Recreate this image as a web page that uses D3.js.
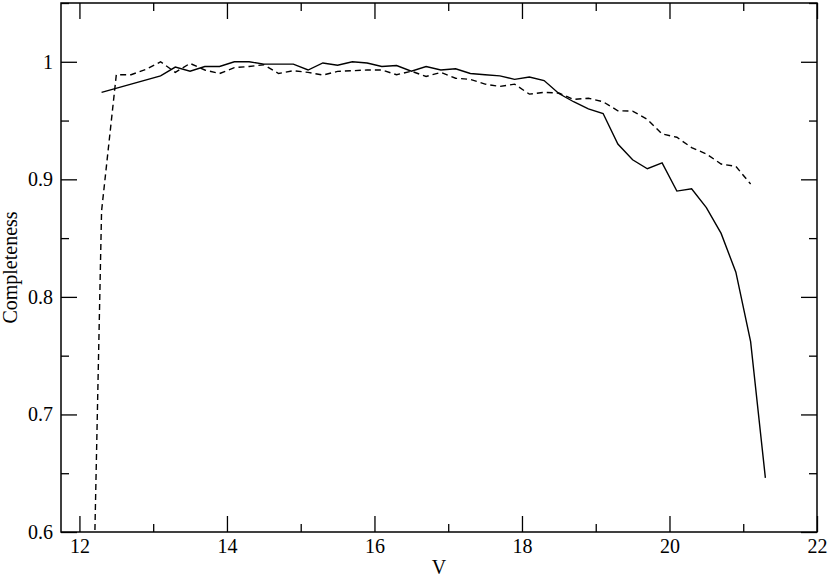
<!DOCTYPE html>
<html>
<head>
<meta charset="utf-8">
<script src="https://cdn.jsdelivr.net/npm/d3@7"></script>
<style>
  body { margin: 0; background: #fff; }
  svg { display: block; }
  text { font-family: "Liberation Serif", "Times New Roman", serif; fill: #000; }
</style>
</head>
<body>
<svg id="chart" width="830" height="577"></svg>
<script>
// ---- Data ----
const solidX = [12.3, 13.1, 13.3, 13.5, 13.7, 13.9, 14.1, 14.3, 14.5, 14.7, 14.9, 15.1, 15.3, 15.5, 15.7, 15.9, 16.1, 16.3, 16.5, 16.7, 16.9, 17.1, 17.3, 17.5, 17.7, 17.9, 18.1, 18.3, 18.5, 18.7, 18.9, 19.1, 19.3, 19.5, 19.7, 19.9, 20.1, 20.3, 20.5, 20.7, 20.9, 21.1, 21.3];
const solidY = [0.974, 0.988, 0.9955, 0.992, 0.996, 0.996, 1.0, 1.0, 0.998, 0.998, 0.998, 0.993, 0.999, 0.997, 1.0, 0.999, 0.996, 0.9968, 0.992, 0.996, 0.993, 0.994, 0.990, 0.989, 0.988, 0.985, 0.987, 0.984, 0.973, 0.966, 0.960, 0.956, 0.930, 0.9166, 0.909, 0.914, 0.890, 0.892, 0.876, 0.854, 0.821, 0.762, 0.646];

const dashedX = [12.1, 12.3, 12.5, 12.7, 12.9, 13.1, 13.3, 13.5, 13.7, 13.9, 14.1, 14.3, 14.5, 14.7, 14.9, 15.1, 15.3, 15.5, 15.7, 15.9, 16.1, 16.3, 16.5, 16.7, 16.9, 17.1, 17.3, 17.5, 17.7, 17.9, 18.1, 18.3, 18.5, 18.7, 18.9, 19.1, 19.3, 19.5, 19.7, 19.9, 20.1, 20.3, 20.5, 20.7, 20.9, 21.1];
const dashedY = [0.27, 0.873, 0.989, 0.989, 0.9935, 1.0, 0.991, 0.9986, 0.993, 0.990, 0.995, 0.996, 0.9975, 0.990, 0.9924, 0.991, 0.9887, 0.9918, 0.9924, 0.993, 0.993, 0.989, 0.992, 0.9875, 0.991, 0.986, 0.985, 0.981, 0.979, 0.981, 0.9725, 0.974, 0.9734, 0.968, 0.969, 0.966, 0.9583, 0.958, 0.951, 0.9386, 0.9358, 0.927, 0.9216, 0.913, 0.911, 0.896];

const xMajorTicks = [12, 14, 16, 18, 20, 22];
const xMinorTicks = [13, 15, 17, 19, 21];
const yMajorTicks = [0.6, 0.7, 0.8, 0.9, 1.0];
const yMinorTicks = [0.65, 0.75, 0.85, 0.95, 1.05];
const xTitle = "V";
const yTitle = "Completeness";

// ---- Layout ----
const svg = d3.select("#chart");
const pL = 61, pR = 817, pT = 3, pB = 532;
const x = d3.scaleLinear().domain([11.75, 22]).range([pL, pR]);
const y = d3.scaleLinear().domain([0.6, 1.05]).range([pB, pT]);

const majorLen = 16, minorLen = 8;
const fontSize = 20;

svg.append("defs").append("clipPath").attr("id", "clip")
  .append("rect").attr("x", pL).attr("y", pT).attr("width", pR - pL).attr("height", pB - pT);

function addAxis(axisGen, tx, ty, showLabels) {
  const g = svg.append("g").attr("transform", `translate(${tx},${ty})`).call(axisGen);
  g.select(".domain").remove();
  g.selectAll(".tick line").attr("stroke", "#000").attr("stroke-width", 1.3);
  if (!showLabels) g.selectAll(".tick text").remove();
  else g.selectAll(".tick text").attr("font-size", fontSize).attr("font-family", "Liberation Serif, serif").attr("fill", "#000");
  return g;
}
const fmtY = d => d === 1 ? "1" : d3.format(".1f")(d);
addAxis(d3.axisBottom(x).tickValues(xMajorTicks).tickSize(-majorLen).tickPadding(7).tickFormat(d3.format("d")), 0, pB, true);
addAxis(d3.axisBottom(x).tickValues(xMinorTicks).tickSize(-minorLen), 0, pB, false);
addAxis(d3.axisTop(x).tickValues(xMajorTicks).tickSize(-majorLen), 0, pT, false);
addAxis(d3.axisTop(x).tickValues(xMinorTicks).tickSize(-minorLen), 0, pT, false);
addAxis(d3.axisLeft(y).tickValues(yMajorTicks).tickSize(-majorLen).tickPadding(8).tickFormat(fmtY), pL, 0, true);
addAxis(d3.axisLeft(y).tickValues(yMinorTicks).tickSize(-minorLen), pL, 0, false);
addAxis(d3.axisRight(y).tickValues(yMajorTicks).tickSize(-majorLen), pR, 0, false);
addAxis(d3.axisRight(y).tickValues(yMinorTicks).tickSize(-minorLen), pR, 0, false);

svg.append("rect").attr("x", pL).attr("y", pT).attr("width", pR - pL).attr("height", pB - pT)
  .attr("fill", "none").attr("stroke", "#000").attr("stroke-width", 1.5);

const line = d3.line().x(d => x(d[0])).y(d => y(d[1]));
const solid = d3.zip(solidX, solidY);
const dashed = d3.zip(dashedX, dashedY);
const plot = svg.append("g").attr("clip-path", "url(#clip)");
plot.append("path").datum(solid).attr("d", line).attr("fill", "none").attr("stroke", "#000").attr("stroke-width", 1.4);
plot.append("path").datum(dashed).attr("d", line).attr("fill", "none").attr("stroke", "#000").attr("stroke-width", 1.4)
  .attr("stroke-dasharray", "6,4");

svg.append("text").attr("x", (pL + pR) / 2).attr("y", 574).attr("text-anchor", "middle")
  .attr("font-size", fontSize).text(xTitle);
svg.append("text").attr("transform", `translate(17,${(pT + pB) / 2}) rotate(-90)`).attr("text-anchor", "middle")
  .attr("font-size", fontSize).text(yTitle);
</script>
</body>
</html>
